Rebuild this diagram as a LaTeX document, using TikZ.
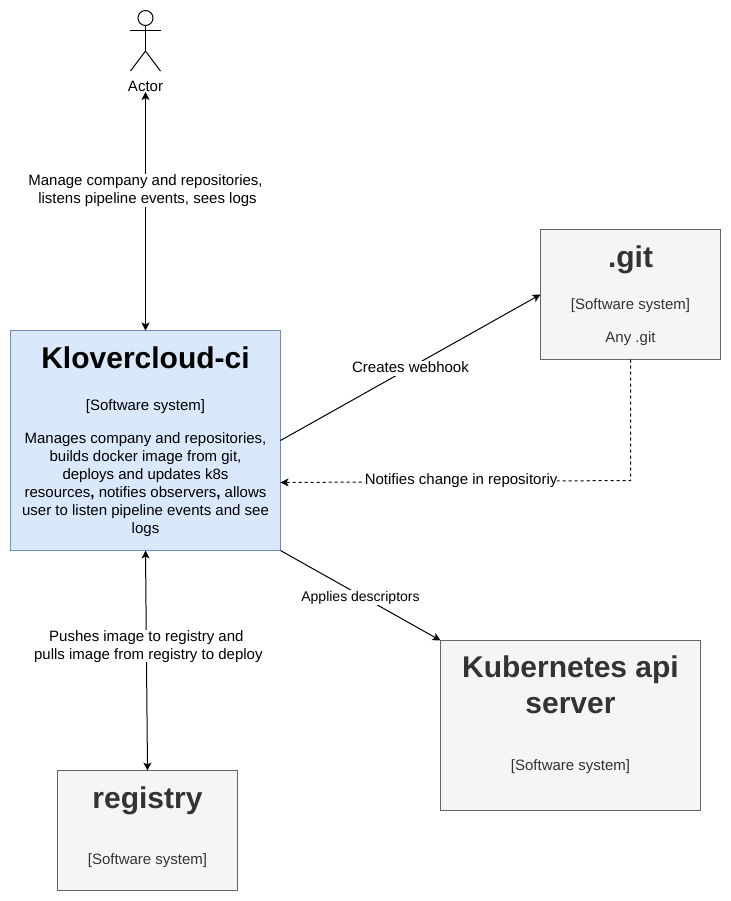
\documentclass[tikz,border=0pt]{standalone}
\usepackage{fontspec}
\setmainfont{Liberation Sans}
\usetikzlibrary{arrows.meta,positioning}

\definecolor{mainfill}{HTML}{DAE8FC}
\definecolor{maindraw}{HTML}{6C8EBF}
\definecolor{sysfill}{HTML}{F5F5F5}
\definecolor{sysdraw}{HTML}{666666}
\definecolor{systext}{HTML}{333333}

\newcommand{\boxtitle}[1]{{\fontsize{22.5}{27}\selectfont\rule{0pt}{18.7pt}\textbf{#1}}}
\newcommand{\labelstrut}{\rule[-2.4pt]{0pt}{11pt}}

\tikzset{
    >={Stealth[length=6pt,width=6pt,inset=1.5pt]},
    body/.style={font=\fontsize{11.25}{13.5}\selectfont, align=center},
    system/.style={body, rectangle, draw=sysdraw, fill=sysfill, text=systext, line width=.75pt, outer sep=0pt, inner sep=0pt},
    mainsystem/.style={system, draw=maindraw, fill=mainfill, text=black},
    link/.style={line width=.75pt},
    relabel/.style={body, fill=white, inner xsep=0pt, inner ysep=0pt, yshift=-.75pt},
}

\begin{document}
\begin{tikzpicture}[x=.75pt, y=-.75pt]
    \useasboundingbox (0,0) rectangle (731,901);

    %-----Systems-----
    % Klovercloud Class
    \node [mainsystem, minimum width=202.5pt, minimum height=165pt] (klover) at (145.5,440.5) {%
        \boxtitle{Klovercloud-ci} \\[18pt]
        {[}Software system{]} \\[11.25pt]
        Manages company and repositories, \\
        builds docker image from git, \\
        deploys and updates k8s \\
        resources\textbf{,} notifies observers\textbf{,} allows \\
        user to listen pipeline events and see \\
        logs
    };

    % Git Class
    \node [system, minimum width=135pt, minimum height=97.5pt, above right=-21.75pt and 195pt of klover] (git) {%
        \boxtitle{.git} \\[18pt]
        {[}Software system{]} \\[11.25pt]
        Any .git
    };

    % Kubernetes Class
    \node [system, minimum width=195pt, minimum height=127.5pt, below right=67.5pt and 120pt of klover] (kube) {%
        \boxtitle{Kubernetes api} \\[2.85pt]
        \boxtitle{server} \\[15.75pt]
        ~ \\
        {[}Software system{]} \\[7pt]
        ~
    };

    % Registry Class
    \node [system, minimum width=135pt, minimum height=90pt, below=165pt of klover, xshift=1.5pt] (registry) {%
        \boxtitle{registry} \\[15pt]
        ~ \\
        {[}Software system{]} \\[-4.5pt]
        ~
    };

    %-----Actor-----
    \node [circle, draw, line width=.75pt, minimum size=11.25pt, inner sep=0pt, outer sep=0pt, above=228.75pt of klover] (head) {};
    \draw [link] (head.south) -- ++(0,25.5) coordinate (hip);
    \draw [link] (head.south) ++(-15.5,4.5) -- ++(31,0);
    \draw [link] (hip) -- ++(-15,20);
    \draw [link] (hip) -- ++(15,20);
    \node [body, inner sep=0pt, below=22.5pt of hip] (actor) {Actor};

    %-----Relations-----
    \draw [link, <->] (klover.north) -- node [relabel, pos=.592] (manage) {\labelstrut Manage company and repositories, \\ \hspace{3pt}listens pipeline events, sees logs} (actor.south);
    \draw [link, ->] (klover.east) -- node [relabel] (webhook) {\labelstrut Creates webhook} (git.west);
    \coordinate (bend) at (630.5,480.5);
    \coordinate (notifyend) at (280.5,482.5);
    \draw [link, ->, dash pattern=on 2.25pt off 2.25pt] (git.south) -- (bend) -- node [relabel, pos=.484, yshift=1.5pt] (notify) {\labelstrut Notifies change in repositoriy} (notifyend);
    \draw [link, <->] (klover.south) -- node [relabel, pos=.43] (pushes) {\labelstrut Pushes image to registry and \\ \hspace{3pt}pulls image from registry to deploy} (registry.north);
    \draw [link, ->] (klover.south east) -- node [relabel, yshift=-.75pt, font=\fontsize{10.5}{13}\selectfont] (applies) {\labelstrut Applies descriptors} (kube.north west);

\end{tikzpicture}
\end{document}
